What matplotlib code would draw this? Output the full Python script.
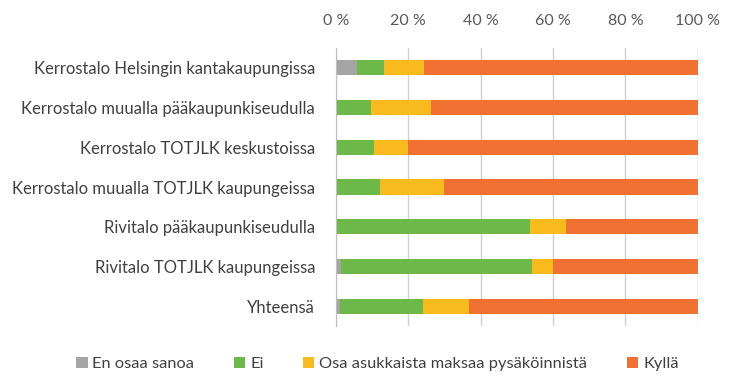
import matplotlib.pyplot as plt
from matplotlib.ticker import FuncFormatter

plt.rcParams['font.family'] = ['Lato', 'DejaVu Sans']

categories = [
    "Kerrostalo Helsingin kantakaupungissa",
    "Kerrostalo muualla pääkaupunkiseudulla",
    "Kerrostalo TOTJLK keskustoissa",
    "Kerrostalo muualla TOTJLK kaupungeissa",
    "Rivitalo pääkaupunkiseudulla",
    "Rivitalo TOTJLK kaupungeissa",
    "Yhteensä",
]
series_names = ["En osaa sanoa", "Ei", "Osa asukkaista maksaa pysäköinnistä", "Kyllä"]
en_osaa = [5.8, 0.0, 0.0, 0.0, 0.0, 1.3, 1.0]
ei = [7.4, 9.7, 10.5, 12.2, 53.6, 52.8, 23.0]
osa = [11.0, 16.5, 9.4, 17.7, 10.0, 5.9, 12.7]
kylla = [75.8, 73.8, 80.1, 70.1, 36.4, 40.0, 63.3]
colors = ["#A5A5A5", "#6CB94A", "#F9BA1E", "#F07132"]

fig = plt.figure(figsize=(7.4, 3.86), dpi=100)
ax = fig.add_axes([0.454, 0.155, 0.489, 0.721])

y = list(range(len(categories)))
left = [0.0] * len(categories)
for name, vals, col in zip(series_names, [en_osaa, ei, osa, kylla], colors):
    ax.barh(y, vals, left=left, height=0.38, color=col, label=name, zorder=3)
    left = [a + b for a, b in zip(left, vals)]

ax.set_yticks(y)
ax.set_yticklabels(categories, fontsize=12, color="#404040")
ax.set_ylim(len(categories) - 0.5, -0.5)
ax.set_xlim(0, 100)
ax.set_xticks([0, 20, 40, 60, 80, 100])
ax.xaxis.set_major_formatter(FuncFormatter(lambda v, p: f"{v:.0f} %"))
ax.xaxis.tick_top()
ax.tick_params(axis="x", labelsize=11.5, labelcolor="#595959", length=0, pad=14)
ax.tick_params(axis="y", length=0, pad=15)
ax.grid(axis="x", color="#D0D0D0", linewidth=1, zorder=0)
for s in ["top", "right", "bottom"]:
    ax.spines[s].set_visible(False)
ax.spines["left"].set_color("#BFBFBF")
ax.spines["left"].set_zorder(4)

fig.legend(loc="lower center", bbox_to_anchor=(0.51, 0.0), ncol=4, frameon=False,
           fontsize=11.8, handlelength=0.7, handleheight=0.7, handletextpad=0.3,
           columnspacing=2.4, labelcolor="#404040")

fig.savefig("out.png", dpi=100)
